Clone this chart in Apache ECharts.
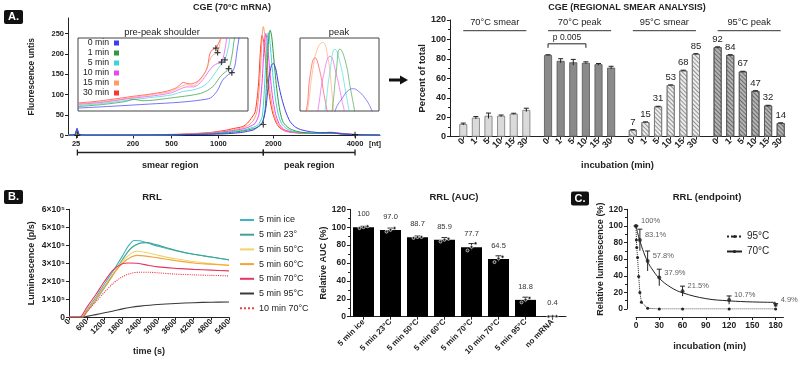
<!DOCTYPE html>
<html>
<head>
<meta charset="utf-8">
<script src="https://cdn.jsdelivr.net/npm/echarts@6/dist/echarts.min.js"></script>
<style>
html, body { margin: 0; padding: 0; background: #fff; }
#main { width: 800px; height: 366px; }
</style>
</head>
<body>
<div id="main"></div>
<script>
var FONT = '"Liberation Sans", Arial, sans-serif';

// ---------- A. CGE trace (70°C mRNA) ----------
var cgeNames = ['0 min', '1 min', '5 min', '10 min', '15 min', '30 min'];
var cgeColors = ['#3c3cf5', '#2f9a3c', '#3ad6d6', '#ee44ee', '#ff9c66', '#ff3434'];
var sizeLabels = ['25', '200', '500', '1000', '2000', '4000', '[nt]'];
var sizePos = [2.6, 20.8, 33.2, 48.2, 65.8, 92.0, 98.4];
var fluorTicks = [0, 50, 100, 150, 200, 250];

var cge0 = [[0,1],[2.2,3],[2.9,18],[3.6,3],[6,1],[20,1],[35,2],[45,3],[50,4],[53,5.4],[56,8],[58,11],[59.4,13.5],[60.5,19],[61.5,26],[62.5,35],[63.5,72],[64.4,140],[65.2,172],[65.8,177],[66.6,163],[67.5,125],[68.5,91],[69.8,58],[71.2,34],[73,20],[75,13.5],[78,9],[81,7],[84,7],[88,4],[92,2.5],[96,1.5],[100,1]];
var cge1 = [[0,1],[2.2,2],[2.9,13],[3.6,2],[6,1],[20,1.2],[35,2],[45,3.5],[50,6],[53,8],[56,11],[58,14],[60,18],[61.2,22],[62.3,31],[63.2,65],[63.9,185],[64.4,245],[64.8,258],[65.3,242],[66,185],[67,108],[68,57],[69,32],[71,17],[74,9],[78,6],[84,6],[88,3.5],[92,2],[96,1.3],[100,1]];
var cge5 = [[0,1],[2.2,2],[2.9,13],[3.6,2],[6,1],[20,1.2],[35,2],[45,4],[50,7],[53,10],[56,13],[58,17],[60,22],[61.2,29],[62.3,48],[63.2,150],[63.8,232],[64.2,252],[64.7,232],[65.4,170],[66.3,100],[67.3,55],[68.4,30],[70,17],[72,10],[76,6],[80,5],[84,6],[88,3.5],[92,2],[96,1.3],[100,1]];
var cge10 = [[0,1],[2.2,2],[2.9,13],[3.6,2],[6,1],[20,1.3],[35,2.2],[45,5],[50,9],[53,12],[56,16],[58,21],[60,30],[61.2,52],[62.2,130],[62.9,225],[63.4,250],[63.9,228],[64.6,165],[65.5,98],[66.5,54],[67.6,30],[69,16],[71,10],[75,6],[80,5],[84,6.5],[88,4],[92,2],[96,1.3],[100,1]];
var cge15 = [[0,1],[2.2,2],[2.9,14],[3.6,2],[6,1],[20,1.5],[35,2.5],[45,6],[50,10],[53,14],[56,19],[58,26],[59.5,38],[60.6,60],[61.6,150],[62.2,240],[62.6,267],[63.1,245],[63.8,180],[64.8,105],[65.8,58],[67,32],[68.3,18],[70,11],[74,6],[80,5],[84,7],[88,4],[92,2],[96,1.5],[100,1]];
var cge30 = [[0,1],[2.2,2],[2.9,14],[3.6,2],[6,1],[20,1.5],[35,3],[45,7],[50,12],[53,17],[56,22],[57.5,30],[59,45],[60,58],[61,120],[61.7,210],[62.2,246],[62.8,225],[63.6,160],[64.6,95],[65.6,55],[66.8,30],[68,18],[70,10],[74,6],[80,5],[84,8],[88,5],[92,2.5],[96,1.5],[100,1]];
var cgeTraces = [cge0, cge1, cge5, cge10, cge15, cge30];

// pre-peak shoulder inset (zoomed, arbitrary units)
var sh0 = [[0,4],[20,6.5],[42,9.5],[60,12],[72,15],[78,18],[82,28],[85,42],[88.5,50],[90.5,52.5],[92.3,62],[93.5,82],[94.7,100],[95.5,120]];
var sh1 = [[0,6],[15,9],[28,13],[33,16],[38,14],[45,15],[55,18],[65,21],[72,24],[76,28],[80,35],[84,48],[88.6,58],[90.5,75],[92,100],[93,118]];
var sh5 = [[0,7.5],[15,10.5],[30,15],[45,19],[55,22],[62,27],[66,28],[72,32],[76,38],[80,50],[83,60],[86.4,70],[88.5,88],[90,112]];
var sh10 = [[0,9],[15,12],[30,17],[45,21],[55,25],[60,30],[64,33],[68,33],[72,39],[75,48],[78,58],[81,64],[84.4,67],[86.5,85],[88,110]];
var sh15 = [[0,10],[15,13],[30,18],[45,23],[55,27],[60,33],[64,36],[68,35],[72,43],[75,54],[77.5,70],[79.5,77],[82.1,80],[83.5,92],[85,115]];
var sh30 = [[0,11],[10,13],[20,16],[32,20],[42,23],[52,27],[58,32],[62,39],[66,37],[70,40],[73,47],[76,59],[77.5,78],[79,84],[81.1,86],[82.5,92],[84,100],[86,130]];
var shoulderTraces = [sh0, sh1, sh5, sh10, sh15, sh30];

// peak inset
var pk0 = [[40,-20],[45,2],[55,20],[61,28],[67,30.5],[74,27],[82,18],[90,3],[94,-10]];
var pk1 = [[38,-15],[41,3],[46,55],[50.6,85],[57,70],[64,30],[70,-5],[72,-20]];
var pk5 = [[29,-15],[32,3],[38,55],[44.3,84.5],[51,65],[58,25],[63,-5],[65,-20]];
var pk10 = [[20,-15],[23,3],[30,50],[38,75],[46,50],[53,15],[57,-5],[59,-20]];
var pk15 = [[6,-15],[10,5],[16,55],[22,85],[28.7,94],[35,75],[40,30],[43,-5],[45,-20]];
var pk30 = [[3,-15],[8.5,4],[13,50],[19,73],[25,55],[30,25],[34,2],[37,-15]];
var peakTraces = [pk0, pk1, pk5, pk10, pk15, pk30];

var mainMarks = [[3.0,1],[62.6,27],[92,2]];
var shoulderMarks = [[81.1,86],[82.1,80],[84.4,67],[86.4,70],[88.6,58],[90.5,52.5]];
var regionNames = ['smear region', 'peak region'];
var regionBounds = [[3.0, 62.6], [62.6, 92]];

// ---------- A. regional smear analysis ----------
var smearGroups = ['70°C smear', '70°C peak', '95°C smear', '95°C peak'];
var incTimes = ['0', '1', '5', '10', '15', '30'];
var smear70 = [13, 19.5, 21.5, 21.5, 23.5, 27.5];
var peak70 = [84, 78, 76.5, 76, 74.5, 71];
var smear95 = [7, 15, 31, 53, 68, 85];
var peak95 = [92, 84, 67, 47, 32, 14];
var smear70Sd = [1, 1.2, 2.8, 0.8, 0.6, 1.8];
var peak70Sd = [0.3, 2.2, 3, 1, 0.8, 1.4];
var smear95Sd = [0.3, 0.3, 0.3, 0.3, 0.4, 0.4];
var peak95Sd = [0.4, 0.3, 0.3, 0.3, 0.3, 0.3];
var pValueText = 'p 0.005';
var pPair = [0, 3];   // bars compared inside the 70°C peak group

// ---------- B. RRL kinetics (×10^5 p/s) ----------
var rrlNames = ['5 min ice', '5 min 23°', '5 min 50°C', '5 min 60°C', '5 min 70°C', '5 min 95°C', '10 min 70°C'];
var rrlColors = ['#3fb4c2', '#3fa592', '#f2d36a', '#f0a53c', '#e8345e', '#3a3a3a', '#e8404e'];
var rrlIce = [[0,0],[420,0],[600,0.4],[900,1.1],[1200,1.85],[1500,2.6],[1800,3.4],[2000,3.95],[2200,4.27],[2400,4.25],[2700,4.1],[3000,3.95],[3600,3.7],[4200,3.5],[4800,3.35],[5400,3.18]];
var rrl23 = [[0,0],[450,0],[600,0.3],[900,0.95],[1200,1.65],[1500,2.4],[1800,3.2],[2100,3.85],[2400,4.12],[2600,4.15],[2900,4.05],[3600,3.72],[4200,3.5],[4800,3.35],[5400,3.2]];
var rrl50 = [[0,0],[420,0],[600,0.35],[900,1.0],[1200,1.7],[1500,2.45],[1800,3.1],[2100,3.55],[2300,3.67],[2600,3.6],[3000,3.45],[3600,3.25],[4200,3.1],[4800,2.98],[5400,2.9]];
var rrl60 = [[0,0],[420,0],[600,0.35],[900,1.0],[1200,1.7],[1500,2.4],[1800,3.0],[2100,3.35],[2300,3.44],[2600,3.4],[3000,3.3],[3600,3.15],[4200,3.02],[4800,2.95],[5400,2.88]];
var rrl70 = [[0,0],[350,0],[600,0.55],[900,1.25],[1200,2.0],[1500,2.65],[1800,2.97],[2000,3.02],[2300,3.0],[2700,2.88],[3000,2.8],[3600,2.72],[4200,2.66],[4800,2.62],[5400,2.58]];
var rrl95 = [[0,0],[450,0],[600,0.05],[900,0.15],[1200,0.25],[1500,0.35],[1800,0.47],[2100,0.56],[2400,0.62],[3000,0.71],[3600,0.77],[4200,0.81],[4800,0.84],[5400,0.85]];
var rrl10m70 = [[0,0],[450,0],[600,0.3],[900,0.85],[1200,1.4],[1500,1.9],[1800,2.25],[2100,2.45],[2400,2.5],[2700,2.5],[3000,2.47],[3600,2.4],[4200,2.36],[4800,2.33],[5400,2.3]];
var rrlTraces = [rrlIce, rrl23, rrl50, rrl60, rrl70, rrl95, rrl10m70];

// ---------- B. RRL AUC ----------
var aucCats = ['5 min ice', '5 min 23°C', '5 min 50°C', '5 min 60°C', '5 min 70°C', '10 min 70°C', '5 min 95°C', 'no mRNA'];
var aucMean = [100, 97.0, 88.7, 85.9, 77.7, 64.5, 18.8, 0.4];
var aucText = ['100', '97.0', '88.7', '85.9', '77.7', '64.5', '18.8', '0.4'];
var aucSd = [1, 2, 1.5, 2.5, 4, 3.5, 3, 0.2];
var aucReps = [[99,100,101],[95,97,99],[88,89,89],[84,86,87],[74,78,82],[61,65,67],[16,19,21],[0.3,0.4,0.5]];

// ---------- C. RRL endpoint ----------
var t95 = [0, 0.5, 1, 2, 3.5, 5, 7, 15, 30, 60, 120, 180];
var lum95 = [100, 83, 74, 62, 39, 20, 8, 1, 0, 0, 0, 0];
var t70 = [0, 5, 15, 30, 60, 120, 180];
var lum70 = [100, 83.1, 57.8, 37.9, 21.5, 10.7, 4.9];
var lum70Sd = [0, 13, 12, 10, 6, 5, 1.5];
var lum70Text = ['100%', '83.1%', '57.8%', '37.9%', '21.5%', '10.7%', '4.9%'];
var fitT = [0, 2, 5, 10, 15, 20, 30, 45, 60, 90, 120, 150, 180];
var fit70 = [100, 92, 82, 68, 57, 49, 37, 26, 19.5, 12.5, 9.8, 8.5, 8];
var endTicks = [0, 30, 60, 90, 120, 150, 180];

// ---------------------------------------------------------
var plusPath = 'path://M4,0 L6,0 L6,4 L10,4 L10,6 L6,6 L6,10 L4,10 L4,6 L0,6 L0,4 L4,4 Z';
var GROUP_STEP = 6.72;
function barPos(g, i) { return g * GROUP_STEP + i; }

function merge(a, b) {
  for (var k in b) {
    if (b[k] && typeof b[k] === 'object' && !Array.isArray(b[k]) && a[k] && typeof a[k] === 'object') {
      a[k] = merge(Object.assign({}, a[k]), b[k]);
    } else {
      a[k] = b[k];
    }
  }
  return a;
}
function axis(gi, size, extra) {
  return merge({
    gridIndex: gi,
    axisLine: { show: true, onZero: false, lineStyle: { color: '#222', width: 1 } },
    axisTick: { show: true, length: 3, lineStyle: { color: '#222' } },
    axisLabel: { fontSize: size, fontWeight: 'bold', fontFamily: FONT, color: '#222', margin: 4 },
    nameTextStyle: { fontSize: 9, fontWeight: 'bold', fontFamily: FONT, color: '#222' },
    splitLine: { show: false }
  }, extra);
}
function hidden(gi) {
  return { gridIndex: gi, type: 'value', min: 0, max: 100, show: false };
}
function nearestLabel(v, pos, labels) {
  var best = 0;
  for (var i = 1; i < pos.length; i++) if (Math.abs(pos[i] - v) < Math.abs(pos[best] - v)) best = i;
  return labels[best];
}
function plain(v) { return String(v); }

var barPositions = [];
var barLabels = [];
var barData = [];
var barErr = [];
var groupVals = [smear70, peak70, smear95, peak95];
var groupSd = [smear70Sd, peak70Sd, smear95Sd, peak95Sd];
var groupStyles = [
  { color: '#dadada', borderColor: '#777', borderWidth: 0.8 },
  { color: '#8a8a8a', borderColor: '#555', borderWidth: 0.8 },
  { color: '#ececec', borderColor: '#777', borderWidth: 0.8,
    decal: { symbol: 'rect', symbolSize: 1, dashArrayX: [1, 0], dashArrayY: [1, 2], rotation: Math.PI / 4, color: 'rgba(90,90,90,0.6)' } },
  { color: '#b4b4b4', borderColor: '#555', borderWidth: 0.8,
    decal: { symbol: 'rect', symbolSize: 1, dashArrayX: [1, 0], dashArrayY: [1, 2], rotation: Math.PI / 4, color: 'rgba(60,60,60,0.6)' } }
];
groupVals.forEach(function (vals, g) {
  vals.forEach(function (v, i) {
    var x = barPos(g, i);
    barPositions.push(x);
    barLabels.push(incTimes[i]);
    barData.push({ value: [x, v], itemStyle: groupStyles[g], label: { show: g >= 2 } });
    barErr.push([x, v, groupSd[g][i]]);
  });
});

function errorBar(cap) {
  return function (params, api) {
    var x = api.value(0), m = api.value(1), s = api.value(2);
    var top = api.coord([x, m + s]);
    var bot = api.coord([x, m - s]);
    var st = { stroke: '#222', lineWidth: 1 };
    return { type: 'group', children: [
      { type: 'line', shape: { x1: top[0], y1: top[1], x2: bot[0], y2: bot[1] }, style: st },
      { type: 'line', shape: { x1: top[0] - cap, y1: top[1], x2: top[0] + cap, y2: top[1] }, style: st }
    ] };
  };
}

var series = [];

// A: main trace, shoulder inset, peak inset (blue drawn last)
for (var k = 5; k >= 0; k--) {
  series.push({ type: 'line', name: cgeNames[k], xAxisIndex: 0, yAxisIndex: 0, data: cgeTraces[k],
    symbol: 'none', smooth: 0.25, lineStyle: { width: 1, color: cgeColors[k] }, itemStyle: { color: cgeColors[k] } });
  series.push({ type: 'line', name: cgeNames[k], xAxisIndex: 1, yAxisIndex: 1, data: shoulderTraces[k],
    symbol: 'none', smooth: 0.3, lineStyle: { width: 1, color: cgeColors[k], opacity: 0.7 }, itemStyle: { color: cgeColors[k] } });
  series.push({ type: 'line', name: cgeNames[k], xAxisIndex: 2, yAxisIndex: 2, data: peakTraces[k],
    symbol: 'none', smooth: 0.5, lineStyle: { width: 1, color: cgeColors[k], opacity: 0.6 }, itemStyle: { color: cgeColors[k] } });
}
series.push({ type: 'scatter', xAxisIndex: 0, yAxisIndex: 0, data: mainMarks, symbol: plusPath, symbolSize: 6,
  itemStyle: { color: '#111' }, z: 5, silent: true });
series.push({ type: 'scatter', xAxisIndex: 1, yAxisIndex: 1, data: shoulderMarks, symbol: plusPath, symbolSize: 6,
  itemStyle: { color: '#111' }, z: 5, silent: true });
series.push({
  type: 'custom', xAxisIndex: 0, yAxisIndex: 0, silent: true, clip: false,
  data: regionBounds.map(function (b, i) { return [b[0], b[1], i]; }),
  renderItem: function (params, api) {
    var a = api.coord([api.value(0), 0]);
    var b = api.coord([api.value(1), 0]);
    var y = a[1] + 17;
    var st = { stroke: '#222', lineWidth: 1.3 };
    return { type: 'group', children: [
      { type: 'line', shape: { x1: a[0], y1: y, x2: b[0], y2: y }, style: st },
      { type: 'line', shape: { x1: a[0], y1: y - 3, x2: a[0], y2: y + 3 }, style: st },
      { type: 'line', shape: { x1: b[0], y1: y - 3, x2: b[0], y2: y + 3 }, style: st },
      { type: 'text', x: (a[0] + b[0]) / 2, y: y + 13, style: { text: regionNames[api.value(2)], align: 'center', verticalAlign: 'middle', font: 'bold 9px ' + FONT, fill: '#222' } }
    ] };
  }
});

// A: regional bars
series.push({ type: 'bar', xAxisIndex: 3, yAxisIndex: 3, data: barData, barWidth: 8,
  label: { position: 'top', distance: 3, fontSize: 9.5, fontFamily: FONT, color: '#222', formatter: function (p) { return p.value[1]; } } });
series.push({ type: 'custom', xAxisIndex: 3, yAxisIndex: 3, data: barErr, renderItem: errorBar(2.5), z: 4, silent: true });
series.push({
  type: 'custom', xAxisIndex: 3, yAxisIndex: 3, silent: true, clip: false,
  data: smearGroups.map(function (g, gi) { return [barPos(gi, 0), barPos(gi, 5), gi]; }),
  renderItem: function (params, api) {
    var a = api.coord([api.value(0), 109]);
    var b = api.coord([api.value(1), 109]);
    return { type: 'group', children: [
      { type: 'line', shape: { x1: a[0], y1: a[1], x2: b[0], y2: b[1] }, style: { stroke: '#333', lineWidth: 1 } },
      { type: 'text', x: (a[0] + b[0]) / 2, y: a[1] - 8, style: { text: smearGroups[api.value(2)], align: 'center', verticalAlign: 'middle', font: '9.3px ' + FONT, fill: '#222' } }
    ] };
  }
});
series.push({
  type: 'custom', xAxisIndex: 3, yAxisIndex: 3, silent: true, clip: false,
  data: [[barPos(1, pPair[0]), barPos(1, pPair[1]), 95.5]],
  renderItem: function (params, api) {
    var a = api.coord([api.value(0), api.value(2)]);
    var b = api.coord([api.value(1), api.value(2)]);
    var st = { stroke: '#222', lineWidth: 1 };
    return { type: 'group', children: [
      { type: 'line', shape: { x1: a[0], y1: a[1], x2: b[0], y2: b[1] }, style: st },
      { type: 'line', shape: { x1: a[0], y1: a[1], x2: a[0], y2: a[1] + 4 }, style: st },
      { type: 'line', shape: { x1: b[0], y1: b[1], x2: b[0], y2: b[1] + 4 }, style: st },
      { type: 'text', x: (a[0] + b[0]) / 2, y: a[1] - 6, style: { text: pValueText, align: 'center', verticalAlign: 'middle', font: '8.5px ' + FONT, fill: '#222' } }
    ] };
  }
});

// B: kinetics
rrlTraces.forEach(function (d, i) {
  series.push({ type: 'line', name: rrlNames[i], xAxisIndex: 4, yAxisIndex: 4, data: d, symbol: 'none', smooth: 0.3,
    lineStyle: { width: 1.1, color: rrlColors[i], type: i === 6 ? 'dotted' : 'solid' }, itemStyle: { color: rrlColors[i] } });
});

// B: AUC bars
series.push({ type: 'bar', xAxisIndex: 5, yAxisIndex: 5, data: aucMean, barWidth: 21, itemStyle: { color: '#000' },
  label: { show: true, position: 'top', distance: 9, fontSize: 7.5, fontFamily: FONT, color: '#333',
    formatter: function (p) { return aucText[p.dataIndex]; } } });
series.push({
  type: 'custom', xAxisIndex: 5, yAxisIndex: 5, silent: true, z: 4,
  data: aucCats.map(function (c, i) { return [i, aucMean[i], aucSd[i], aucReps[i][0], aucReps[i][1], aucReps[i][2]]; }),
  renderItem: function (params, api) {
    var i = api.value(0), m = api.value(1), s = api.value(2);
    var top = api.coord([i, m + s]);
    var bot = api.coord([i, Math.max(m - s, 0)]);
    var st = { stroke: '#222', lineWidth: 1 };
    var kids = [
      { type: 'line', shape: { x1: top[0], y1: top[1], x2: bot[0], y2: bot[1] }, style: st },
      { type: 'line', shape: { x1: top[0] - 3, y1: top[1], x2: top[0] + 3, y2: top[1] }, style: st }
    ];
    [-4, 0, 4].forEach(function (dx, r) {
      var p = api.coord([i, api.value(3 + r)]);
      kids.push({ type: 'circle', shape: { cx: p[0] + dx, cy: p[1], r: 1.5 }, style: { fill: '#222', stroke: '#eee', lineWidth: 0.7 } });
    });
    return { type: 'group', children: kids };
  }
});

// C: endpoint
series.push({ type: 'line', name: '95°C', xAxisIndex: 6, yAxisIndex: 6,
  data: t95.map(function (t, i) { return [t, lum95[i]]; }),
  symbol: 'circle', symbolSize: 3, lineStyle: { width: 1, type: 'dotted', color: '#222' }, itemStyle: { color: '#222' } });
series.push({ type: 'line', name: '70°C', xAxisIndex: 6, yAxisIndex: 6,
  data: fitT.map(function (t, i) { return [t, fit70[i]]; }),
  symbol: 'circle', symbolSize: 3, showSymbol: false, smooth: 0.4, lineStyle: { width: 1, color: '#222' }, itemStyle: { color: '#222' } });
series.push({ type: 'scatter', xAxisIndex: 6, yAxisIndex: 6,
  data: t70.map(function (t, i) { return [t, lum70[i]]; }),
  symbol: 'circle', symbolSize: 4, itemStyle: { color: '#222' },
  label: { show: true, position: 'right', distance: 3, offset: [0, -5], fontSize: 7.5, fontFamily: FONT, color: '#333',
    formatter: function (p) { return lum70Text[p.dataIndex]; } } });
series.push({ type: 'custom', xAxisIndex: 6, yAxisIndex: 6, silent: true, z: 4,
  data: t70.map(function (t, i) { return [t, lum70[i], lum70Sd[i]]; }), renderItem: errorBar(2.5) });

var option = {
  animation: false,
  backgroundColor: '#fff',
  textStyle: { fontFamily: FONT },
  grid: [
    { left: 68, top: 18, width: 312, height: 117.5, outerBoundsMode: 'none' },
    { left: 78, top: 38, width: 170, height: 73, show: true, borderColor: '#444', borderWidth: 1, backgroundColor: '#fff', outerBoundsMode: 'none' },
    { left: 300, top: 38, width: 79, height: 73, show: true, borderColor: '#444', borderWidth: 1, backgroundColor: '#fff', outerBoundsMode: 'none' },
    { left: 450, top: 20, width: 335, height: 116.7, outerBoundsMode: 'none' },
    { left: 69, top: 209.3, width: 160, height: 108, outerBoundsMode: 'none' },
    { left: 350, top: 209.3, width: 216, height: 107.4, outerBoundsMode: 'none' },
    { left: 636, top: 209.3, width: 147.4, height: 99.7, outerBoundsMode: 'none' }
  ],
  xAxis: [
    axis(0, 7.5, { type: 'value', min: 0, max: 100,
      axisTick: { customValues: sizePos.slice(0, 6) },
      axisLabel: { customValues: sizePos, formatter: function (v) { return nearestLabel(v, sizePos, sizeLabels); } } }),
    hidden(1),
    hidden(2),
    axis(3, 9, { type: 'value', min: -1.05, max: 25.5,
      axisTick: { customValues: barPositions },
      axisLabel: { customValues: barPositions, rotate: 45, margin: 3, formatter: function (v) { return nearestLabel(v, barPositions, barLabels); } },
      name: 'incubation (min)', nameLocation: 'middle', nameGap: 24, nameTextStyle: { fontSize: 9.4 } }),
    axis(4, 8, { type: 'value', min: 0, max: 5400, interval: 600, axisLabel: { rotate: 45, margin: 3, formatter: plain },
      name: 'time (s)', nameLocation: 'middle', nameGap: 30 }),
    axis(5, 8, { type: 'category', data: aucCats, axisTick: { alignWithLabel: true }, axisLabel: { rotate: 45, margin: 4, interval: 0 } }),
    axis(6, 8.5, { type: 'value', min: 0, max: 190, offset: 8,
      axisTick: { customValues: endTicks }, axisLabel: { customValues: endTicks, formatter: plain },
      name: 'incubation (min)', nameLocation: 'middle', nameGap: 25, nameTextStyle: { fontSize: 9.4 } })
  ],
  yAxis: [
    axis(0, 7.5, { type: 'value', min: 0, max: 288,
      axisTick: { customValues: fluorTicks }, axisLabel: { customValues: fluorTicks },
      name: 'Fluorescence untis', nameLocation: 'middle', nameGap: 32, nameTextStyle: { fontSize: 8.5 } }),
    hidden(1),
    hidden(2),
    axis(3, 9, { type: 'value', min: 0, max: 120, interval: 20, minorTick: { show: true, splitNumber: 2, length: 2 },
      name: 'Percent of total', nameLocation: 'middle', nameGap: 20, nameTextStyle: { fontSize: 9.4 } }),
    axis(4, 8.5, { type: 'value', min: 0, max: 6, interval: 1,
      axisLabel: { formatter: function (v) { return v === 0 ? '0' : v + '×10⁵'; } },
      name: 'Luminescence (p/s)', nameLocation: 'middle', nameGap: 33 }),
    axis(5, 8.5, { type: 'value', min: 0, max: 120, interval: 20, minorTick: { show: true, splitNumber: 2, length: 2 },
      name: 'Relative AUC (%)', nameLocation: 'middle', nameGap: 22 }),
    axis(6, 8.5, { type: 'value', min: 0, max: 120, interval: 20, offset: 9, minorTick: { show: true, splitNumber: 2, length: 2 },
      name: 'Relative luminescence (%)', nameLocation: 'middle', nameGap: 22 })
  ],
  legend: [
    { data: cgeNames, orient: 'vertical', left: 81, top: 38, padding: 0, itemGap: 0, itemWidth: 5, itemHeight: 5,
      icon: 'rect', align: 'right', selectedMode: false,
      textStyle: { fontSize: 8.7, lineHeight: 10, width: 28, align: 'right', fontFamily: FONT, color: '#222' } },
    { data: rrlNames, orient: 'vertical', left: 239, top: 214, padding: 0, itemGap: 2.7, itemWidth: 14, itemHeight: 12,
      selectedMode: false, itemStyle: { opacity: 0 },
      textStyle: { fontSize: 9, lineHeight: 12, fontFamily: FONT, color: '#222' } },
    { data: ['95°C', '70°C'], orient: 'vertical', left: 726, top: 231, padding: 0, itemGap: 4, itemWidth: 15, itemHeight: 4,
      selectedMode: false, textStyle: { fontSize: 10, lineHeight: 11, fontFamily: FONT, color: '#222' } }
  ],
  graphic: [
    { type: 'rect', shape: { x: 4, y: 10, width: 19, height: 14, r: 2 }, style: { fill: '#111' } },
    { type: 'text', x: 13.5, y: 17, style: { text: 'A.', align: 'center', verticalAlign: 'middle', font: 'bold 11px ' + FONT, fill: '#fff' } },
    { type: 'rect', shape: { x: 4, y: 190, width: 19, height: 14, r: 2 }, style: { fill: '#111' } },
    { type: 'text', x: 13.5, y: 197, style: { text: 'B.', align: 'center', verticalAlign: 'middle', font: 'bold 11px ' + FONT, fill: '#fff' } },
    { type: 'rect', shape: { x: 571, y: 191.5, width: 18, height: 14, r: 2 }, style: { fill: '#111' } },
    { type: 'text', x: 580, y: 198.5, style: { text: 'C.', align: 'center', verticalAlign: 'middle', font: 'bold 11px ' + FONT, fill: '#fff' } },
    { type: 'text', x: 232, y: 8, style: { text: 'CGE (70°C mRNA)', align: 'center', verticalAlign: 'middle', font: 'bold 9px ' + FONT, fill: '#222' } },
    { type: 'text', x: 627, y: 8, style: { text: 'CGE (REGIONAL SMEAR ANALYSIS)', align: 'center', verticalAlign: 'middle', font: 'bold 9px ' + FONT, fill: '#222' } },
    { type: 'text', x: 162, y: 32, style: { text: 'pre-peak shoulder', align: 'center', verticalAlign: 'middle', font: '9.4px ' + FONT, fill: '#222' } },
    { type: 'text', x: 339, y: 32, style: { text: 'peak', align: 'center', verticalAlign: 'middle', font: '9.4px ' + FONT, fill: '#222' } },
    { type: 'text', x: 152, y: 197, style: { text: 'RRL', align: 'center', verticalAlign: 'middle', font: 'bold 9.5px ' + FONT, fill: '#222' } },
    { type: 'text', x: 454, y: 197, style: { text: 'RRL (AUC)', align: 'center', verticalAlign: 'middle', font: 'bold 9.5px ' + FONT, fill: '#222' } },
    { type: 'text', x: 707, y: 197, style: { text: 'RRL (endpoint)', align: 'center', verticalAlign: 'middle', font: 'bold 9.5px ' + FONT, fill: '#222' } },
    { type: 'line', shape: { x1: 389, y1: 80, x2: 401, y2: 80 }, style: { stroke: '#111', lineWidth: 3 } },
    { type: 'polygon', shape: { points: [[400, 75.5], [408, 80], [400, 84.5]] }, style: { fill: '#111' } }
  ],
  series: series
};

var myChart = echarts.init(document.getElementById('main'));
myChart.setOption(option);
</script>
</body>
</html>
